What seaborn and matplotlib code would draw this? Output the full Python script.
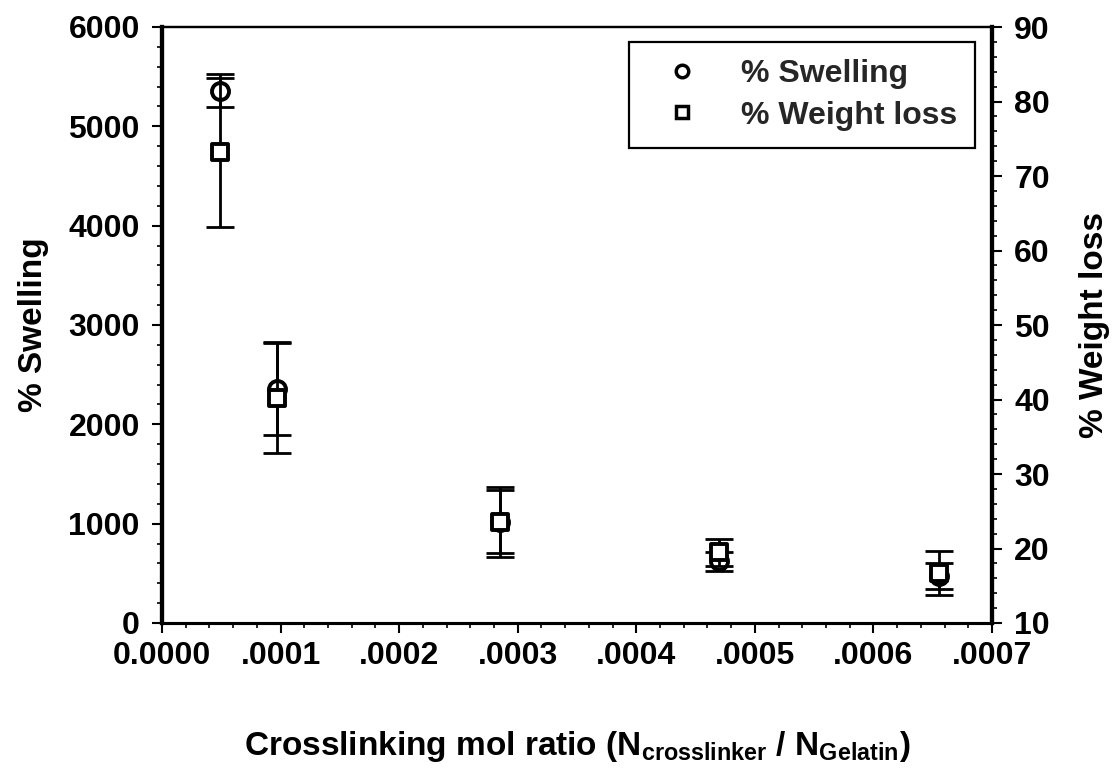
import numpy as np
import pandas as pd
import matplotlib
matplotlib.use("Agg")
import matplotlib.pyplot as plt
from matplotlib.lines import Line2D
from matplotlib.ticker import MultipleLocator, FixedLocator, FixedFormatter
import seaborn as sns

# ---- data ----
ratio = [0.000049, 0.000097, 0.000285, 0.000470, 0.000655]
swelling = [5360, 2360, 1020, 620, 470]
swelling_err = [165, 470, 320, 95, 130]
weight_loss = [73.2, 40.2, 23.6, 19.5, 16.7]
weight_loss_err = [10.0, 7.4, 4.7, 1.8, 2.9]

x_ticks = [0.0, 0.0001, 0.0002, 0.0003, 0.0004, 0.0005, 0.0006, 0.0007]
x_ticklabels = ["0.0000", ".0001", ".0002", ".0003", ".0004", ".0005", ".0006", ".0007"]

df = pd.DataFrame({"ratio": ratio, "swelling": swelling, "swelling_err": swelling_err,
                   "weight_loss": weight_loss, "weight_loss_err": weight_loss_err})

sns.set_theme(style="white")
plt.rcParams["font.family"] = ["Liberation Sans", "DejaVu Sans"]
plt.rcParams["font.weight"] = "bold"
plt.rcParams["axes.labelweight"] = "bold"
plt.rcParams["mathtext.fontset"] = "custom"
plt.rcParams["mathtext.rm"] = "Liberation Sans:bold"
plt.rcParams["mathtext.bf"] = "Liberation Sans:bold"
plt.rcParams["mathtext.it"] = "Liberation Sans:bold"
plt.rcParams["mathtext.default"] = "bf"

FS = 23
LFS = 24
fig = plt.figure(figsize=(11.12, 7.76), dpi=100)
ax = fig.add_axes([162/1112, 1-623/776, (992-162)/1112, (623-27)/776])
ax2 = ax.twinx()

# error bars
ax.errorbar(df["ratio"], df["swelling"], yerr=df["swelling_err"], fmt="none",
            ecolor="black", elinewidth=2, capsize=10, capthick=2, zorder=3)
ax2.errorbar(df["ratio"], df["weight_loss"], yerr=df["weight_loss_err"], fmt="none",
             ecolor="black", elinewidth=2, capsize=10, capthick=2, zorder=3)

# markers
sns.scatterplot(data=df, x="ratio", y="swelling", ax=ax, marker="o", s=150,
                facecolor="white", edgecolor="black", linewidth=2.8, zorder=4, legend=False)
sns.scatterplot(data=df, x="ratio", y="weight_loss", ax=ax2, marker="s", s=140,
                facecolor="white", edgecolor="black", linewidth=2.8, zorder=4, legend=False)

ax.set_xlim(0, 0.0007)
ax.set_ylim(0, 6000)
ax2.set_ylim(10, 90)

ax.xaxis.set_major_locator(FixedLocator(x_ticks))
ax.xaxis.set_major_formatter(FixedFormatter(x_ticklabels))
ax.xaxis.set_minor_locator(MultipleLocator(0.00002))
ax.yaxis.set_major_locator(MultipleLocator(1000))
ax.yaxis.set_minor_locator(MultipleLocator(200))
ax2.yaxis.set_major_locator(MultipleLocator(10))
ax2.yaxis.set_minor_locator(MultipleLocator(2))

for a in (ax, ax2):
    a.tick_params(which="major", direction="out", length=7, width=1.5, color="black",
                  labelsize=FS, labelcolor="black")
    a.tick_params(which="minor", direction="out", length=3.5, width=1.2, color="black")
    for t in a.get_xticklabels() + a.get_yticklabels():
        t.set_fontweight("bold")
ax.tick_params(axis="x", which="both", bottom=True, pad=6)
ax.tick_params(axis="y", which="both", left=True, pad=9)
ax2.tick_params(axis="y", which="both", right=True, pad=9)

for a in (ax, ax2):
    for side, lw in [("left", 3), ("right", 3), ("bottom", 2.2), ("top", 1.6)]:
        a.spines[side].set_visible(True)
        a.spines[side].set_color("black")
        a.spines[side].set_linewidth(lw)

ax.set_xlabel(r"Crosslinking mol ratio (N$_{crosslinker}$ / N$_{Gelatin}$)",
              fontsize=LFS, fontweight="bold", labelpad=42, color="black")
ax.set_ylabel("% Swelling", fontsize=LFS, fontweight="bold", labelpad=14, color="black")
ax2.set_ylabel("% Weight loss", fontsize=LFS, fontweight="bold", labelpad=21, color="black")

handles = [
    Line2D([], [], marker="o", linestyle="none", markersize=9, markerfacecolor="white",
           markeredgecolor="black", markeredgewidth=2.5),
    Line2D([], [], marker="s", linestyle="none", markersize=8, markerfacecolor="white",
           markeredgecolor="black", markeredgewidth=2.5),
]
leg = ax2.legend(handles, ["% Swelling", "% Weight loss"], loc="upper right",
                 bbox_to_anchor=(0.9795, 0.975), borderaxespad=0,
                 prop={"size": 23, "weight": "bold"},
                 frameon=True, fancybox=False, edgecolor="black", framealpha=1,
                 borderpad=0.55, handletextpad=0.75, labelspacing=0.35, handlelength=2.2)
leg.get_frame().set_linewidth(1.6)

fig.savefig("out.png", dpi=100)
